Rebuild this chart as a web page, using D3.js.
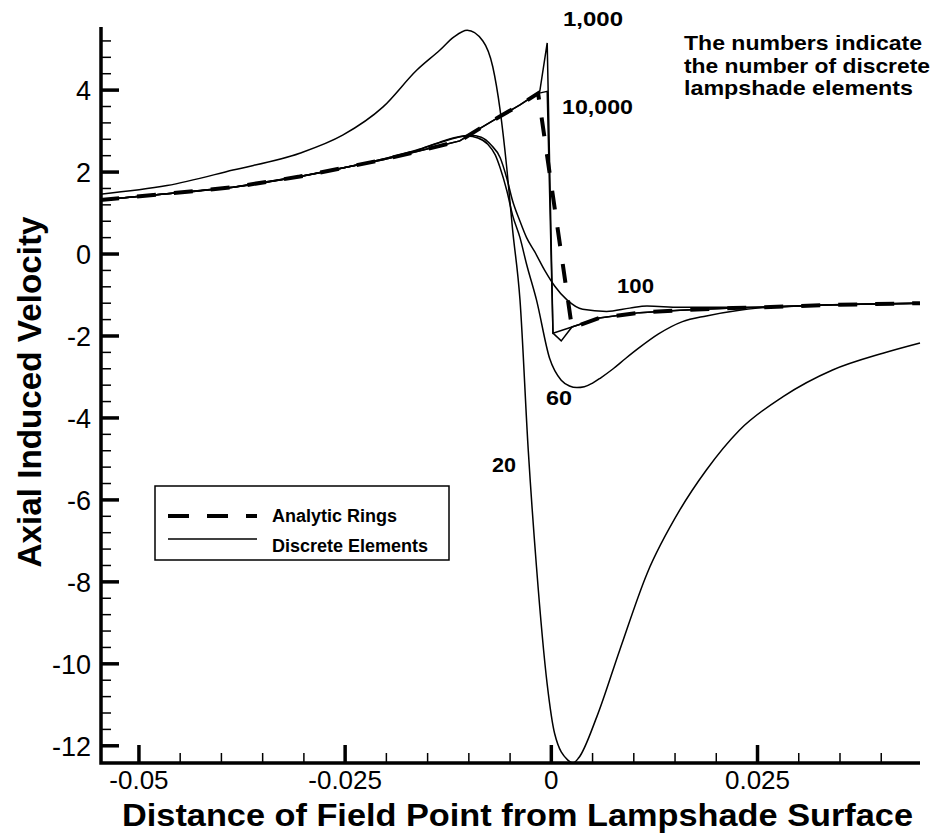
<!DOCTYPE html>
<html>
<head>
<meta charset="utf-8">
<script src="https://cdn.jsdelivr.net/npm/d3@7"></script>
<style>
	body { margin: 0; background: #fff; }
	svg { display: block; font-family: "Liberation Sans", Arial, Helvetica, sans-serif; }
</style>
</head>
<body>
<svg id="chart" width="936" height="835"></svg>
<script>
'use strict';
/*
 *
 *	Data
 *
 */
var xTicks = [-0.05, -0.025, 0, 0.025];
var xTickLabels = ["-0.05", "-0.025", "0", "0.025"];
var yTicks = [-12, -10, -8, -6, -4, -2, 0, 2, 4];
var yTickLabels = ["-12", "-10", "-8", "-6", "-4", "-2", "0", "2", "4"];

// analytic rings (dashed)
var analyticRings = [
	[-0.0547, 1.32], [-0.0466, 1.47], [-0.0386, 1.63], [-0.0305, 1.89], [-0.0253, 2.1],
	[-0.0204, 2.3], [-0.0163, 2.5], [-0.0135, 2.64], [-0.0111, 2.76], [-0.0087, 3.06],
	[-0.0062, 3.36], [-0.0038, 3.64], [-0.0016, 3.92], [0.0025, -1.8], [0.0058, -1.56],
	[0.0107, -1.43], [0.0156, -1.37], [0.022, -1.32], [0.03, -1.27], [0.0341, -1.24], [0.0447, -1.2]
];
// discrete elements
var elements10000 = [
	[-0.0547, 1.32], [-0.0466, 1.47], [-0.0386, 1.63], [-0.0305, 1.89], [-0.0253, 2.1],
	[-0.0204, 2.3], [-0.0163, 2.5], [-0.0135, 2.64], [-0.0111, 2.76], [-0.0087, 3.06],
	[-0.0062, 3.36], [-0.0038, 3.64], [-0.0016, 3.92], [-0.0005, 3.97], [0.0002, -1.93],
	[0.0025, -1.78], [0.0058, -1.56], [0.0107, -1.43], [0.0156, -1.37], [0.022, -1.32],
	[0.03, -1.27], [0.0341, -1.24], [0.0447, -1.2]
];
var elements1000 = [
	[-0.0547, 1.32], [-0.0466, 1.47], [-0.0386, 1.63], [-0.0305, 1.89], [-0.0253, 2.1],
	[-0.0204, 2.3], [-0.0163, 2.5], [-0.0135, 2.64], [-0.0111, 2.76], [-0.0087, 3.06],
	[-0.0062, 3.36], [-0.0038, 3.64], [-0.0014, 3.97], [-0.0005, 5.15], [0.0002, -1.93],
	[0.0012, -2.12], [0.0025, -1.78], [0.0058, -1.56], [0.0107, -1.43], [0.0156, -1.37],
	[0.022, -1.32], [0.03, -1.27], [0.0341, -1.24], [0.0447, -1.2]
];
var elements100 = [
	[-0.0547, 1.32], [-0.0466, 1.47], [-0.0386, 1.63], [-0.0305, 1.89], [-0.0253, 2.1],
	[-0.0204, 2.32], [-0.0163, 2.54], [-0.0135, 2.73], [-0.0115, 2.85], [-0.0098, 2.9],
	[-0.0085, 2.85], [-0.0073, 2.66], [-0.0062, 2.35], [-0.0054, 1.85], [-0.0047, 1.3],
	[-0.0038, 0.8], [-0.0030, 0.4], [-0.0020, 0.05], [-0.0008, -0.4], [0.0004, -0.78],
	[0.0019, -1.12], [0.0038, -1.35], [0.0067, -1.4], [0.0095, -1.32], [0.0116, -1.27],
	[0.0156, -1.3], [0.022, -1.3], [0.03, -1.27], [0.0341, -1.24], [0.0447, -1.2]
];
var elements60 = [
	[-0.0547, 1.32], [-0.0466, 1.47], [-0.0386, 1.63], [-0.0305, 1.89], [-0.0253, 2.1],
	[-0.0204, 2.32], [-0.0163, 2.53], [-0.0135, 2.72], [-0.0115, 2.84], [-0.0102, 2.88],
	[-0.0089, 2.83], [-0.0077, 2.68], [-0.0068, 2.42], [-0.0062, 2.1], [-0.0054, 1.55],
	[-0.0047, 0.95], [-0.0038, 0.4], [-0.0030, -0.25], [-0.0018, -1.12], [-0.0002, -2.55],
	[0.0012, -3.08], [0.0022, -3.22], [0.0031, -3.26], [0.0040, -3.24], [0.0050, -3.15],
	[0.0060, -3.02], [0.0075, -2.8], [0.0090, -2.55], [0.0107, -2.28], [0.0130, -1.95],
	[0.0159, -1.65], [0.0188, -1.51], [0.0228, -1.37], [0.0250, -1.32],
	[0.03, -1.27], [0.0341, -1.24], [0.0447, -1.2]
];
var elements20 = [
	[-0.0547, 1.46], [-0.0466, 1.67], [-0.0386, 2.05], [-0.0305, 2.46], [-0.0253, 2.9],
	[-0.0204, 3.59], [-0.0163, 4.49], [-0.0135, 4.98], [-0.0118, 5.3], [-0.0102, 5.46],
	[-0.0083, 5.2], [-0.0071, 4.57], [-0.0062, 3.5], [-0.0054, 2.1], [-0.0047, 0.6],
	[-0.0038, -1.12], [-0.0028, -4.78], [-0.0018, -7.63], [-0.0005, -10.5], [0.0004, -11.7],
	[0.0020, -12.35], [0.0026, -12.42], [0.0033, -12.3], [0.0055, -11.3], [0.0083, -9.66],
	[0.0116, -7.8], [0.0156, -6.24], [0.0188, -5.27], [0.0228, -4.3], [0.0281, -3.48],
	[0.0341, -2.83], [0.0402, -2.42], [0.0447, -2.17]
];

var curveLabels = ["1,000", "10,000", "100", "60", "20"];
var noteLines = ["The numbers indicate", "the number of discrete", "lampshade elements"];
var legendNames = ["Analytic Rings", "Discrete Elements"];

/*
 *
 *	Scales
 *
 */
var svg = d3.select("#chart");
var x = d3.scaleLinear().domain([-0.0546, 0.0447]).range([101, 920]);
var y = d3.scaleLinear().domain([-12.42, 5.54]).range([763, 27]);
var x0 = x.range()[0], y0 = y.range()[0];

// minor tick positions
var xMinor = d3.range(-10, 9).filter(function(k){ return k % 5 !== 0; }).map(function(k){ return k * 0.005; });
var yMinor = d3.range(0, 44).filter(function(k){ return k % 5 !== 0; }).map(function(k){ return -12 + k * 0.4; });

/*
 *
 *	Axes (ticks point into the plot)
 *
 */
var axes = svg.append("g").attr("stroke", "#000");
axes.append("path")
	.attr("d", "M" + x0 + "," + y.range()[1] + "V" + y0 + "H" + x.range()[1])
	.attr("fill", "none").attr("stroke-width", 3.5);

axes.selectAll("line.ymaj").data(yTicks).enter().append("line").attr("class", "ymaj")
	.attr("x1", x0).attr("x2", x0 + 18)
	.attr("y1", function(d){ return y(d); }).attr("y2", function(d){ return y(d); })
	.attr("stroke-width", 3.5);
axes.selectAll("line.ymin").data(yMinor).enter().append("line").attr("class", "ymin")
	.attr("x1", x0).attr("x2", x0 + 10)
	.attr("y1", function(d){ return y(d); }).attr("y2", function(d){ return y(d); })
	.attr("stroke-width", 1.5);
axes.selectAll("line.xmaj").data(xTicks).enter().append("line").attr("class", "xmaj")
	.attr("x1", function(d){ return x(d); }).attr("x2", function(d){ return x(d); })
	.attr("y1", y0).attr("y2", y0 - 18)
	.attr("stroke-width", 3.5);
axes.selectAll("line.xmin").data(xMinor).enter().append("line").attr("class", "xmin")
	.attr("x1", function(d){ return x(d); }).attr("x2", function(d){ return x(d); })
	.attr("y1", y0).attr("y2", y0 - 10)
	.attr("stroke-width", 1.5);

svg.append("g").selectAll("text").data(yTicks).enter().append("text")
	.attr("x", x0 - 10).attr("y", function(d){ return y(d); }).attr("dy", "0.36em")
	.attr("text-anchor", "end").attr("font-size", 27)
	.text(function(d, i){ return yTickLabels[i]; });
svg.append("g").selectAll("text").data(xTicks).enter().append("text")
	.attr("x", function(d){ return x(d); }).attr("y", y0 + 26)
	.attr("text-anchor", "middle").attr("font-size", 26)
	.text(function(d, i){ return xTickLabels[i]; });

// axis titles
svg.append("text")
	.attr("x", 122).attr("y", 826)
	.attr("textLength", 791).attr("lengthAdjust", "spacingAndGlyphs")
	.attr("font-size", 31).attr("font-weight", "bold")
	.text("Distance of Field Point from Lampshade Surface");
svg.append("text")
	.attr("transform", "translate(41,392) rotate(-90)")
	.attr("text-anchor", "middle")
	.attr("textLength", 351).attr("lengthAdjust", "spacingAndGlyphs")
	.attr("font-size", 33).attr("font-weight", "bold")
	.text("Axial Induced Velocity");

/*
 *
 *	Curves
 *
 */
var straight = d3.line().x(function(d){ return x(d[0]); }).y(function(d){ return y(d[1]); });
var smooth = d3.line().x(function(d){ return x(d[0]); }).y(function(d){ return y(d[1]); })
	.curve(d3.curveMonotoneX);

var plot = svg.append("g").attr("fill", "none").attr("stroke", "#000");
plot.append("path").attr("d", smooth(elements20)).attr("stroke-width", 1.5);
plot.append("path").attr("d", smooth(elements60)).attr("stroke-width", 1.5);
plot.append("path").attr("d", smooth(elements100)).attr("stroke-width", 1.5);
plot.append("path").attr("d", straight(elements1000)).attr("stroke-width", 1.5);
plot.append("path").attr("d", straight(elements10000)).attr("stroke-width", 1.5);
plot.append("path").attr("d", straight(analyticRings))
	.attr("stroke-width", 4).attr("stroke-dasharray", "19,18");

// curve labels
var labelPos = [[563, 26, 60], [562, 114, 71], [617, 293, 37], [546, 405, 26], [492, 472, 24]];
svg.append("g").selectAll("text").data(curveLabels).enter().append("text")
	.attr("x", function(d, i){ return labelPos[i][0]; })
	.attr("y", function(d, i){ return labelPos[i][1]; })
	.attr("textLength", function(d, i){ return labelPos[i][2]; })
	.attr("lengthAdjust", "spacingAndGlyphs")
	.attr("font-size", 21).attr("font-weight", "bold")
	.text(function(d){ return d; });

// note
var noteWidths = [238, 246, 229];
svg.append("g").selectAll("text").data(noteLines).enter().append("text")
	.attr("x", 684)
	.attr("y", function(d, i){ return 50 + i * 22.5; })
	.attr("textLength", function(d, i){ return noteWidths[i]; })
	.attr("lengthAdjust", "spacingAndGlyphs")
	.attr("font-size", 21).attr("font-weight", "bold")
	.text(function(d){ return d; });

/*
 *
 *	Legend
 *
 */
var legend = svg.append("g");
legend.append("rect")
	.attr("x", 155).attr("y", 486).attr("width", 294).attr("height", 74)
	.attr("fill", "#fff").attr("stroke", "#000").attr("stroke-width", 1.5);
legend.selectAll("text").data(legendNames).enter().append("text")
	.attr("x", 272)
	.attr("y", function(d, i){ return 522 + i * 30; })
	.attr("font-size", 18).attr("font-weight", "bold")
	.text(function(d){ return d; });
legend.append("line").attr("x1", 168).attr("x2", 257).attr("y1", 516).attr("y2", 516)
	.attr("stroke", "#000").attr("stroke-width", 4).attr("stroke-dasharray", "21,18");
legend.append("line").attr("x1", 168).attr("x2", 257).attr("y1", 539).attr("y2", 539)
	.attr("stroke", "#000").attr("stroke-width", 1.5);
</script>
</body>
</html>
